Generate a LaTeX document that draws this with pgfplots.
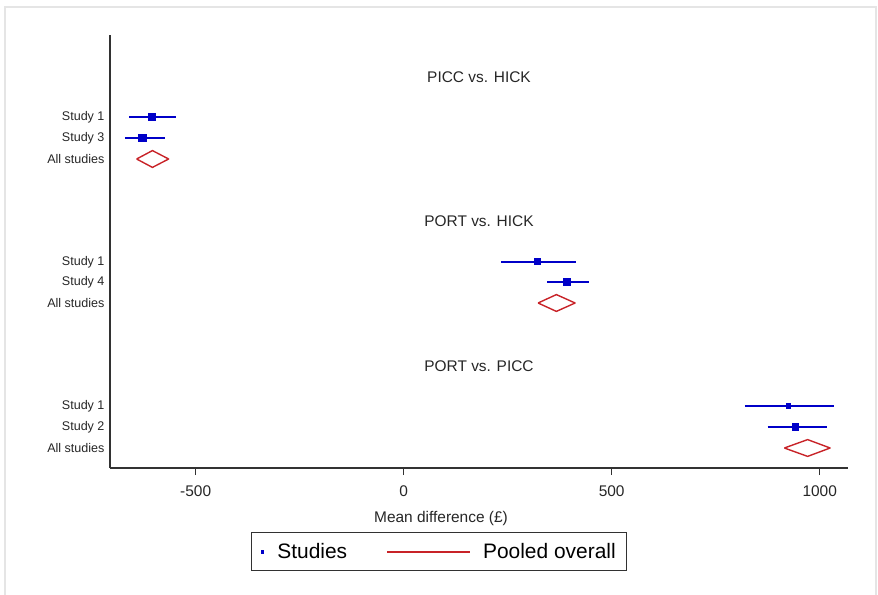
\documentclass[border=0pt]{standalone}
\usepackage{fontspec}
\setmainfont{Liberation Sans}
\usepackage{pgfplots}
\pgfplotsset{compat=1.18}
\definecolor{cblue}{RGB}{0,0,200}
\definecolor{cred}{RGB}{200,35,40}
\definecolor{axgray}{RGB}{50,50,50}
\begin{document}
\begin{tikzpicture}
\useasboundingbox (-110bp,-127bp) rectangle (768bp,468bp);
\draw[black!10, line width=1.2bp] (-105bp,-127bp) -- (-105bp,461bp) -- (766bp,461bp) -- (766bp,-127bp);
\begin{axis}[
  at={(0bp,0bp)}, anchor=south west,
  scale only axis, width=738bp, height=433bp,
  xmin=-706, xmax=1068, ymin=0, ymax=433,
  axis lines*=left,
  axis line style={axgray, line width=1.3bp},
  xtick={-500,0,500,1000},
  xticklabels={-500,0,500,1000},
  tick align=outside,
  major tick length=7bp,
  x tick style={axgray, line width=1bp},
  y tick style={draw=none},
  ytick={20,41,62,165,186,206,309,330,351},
  yticklabels={All studies,Study 2,Study 1,All studies,Study 4,Study 1,All studies,Study 3,Study 1},
  y tick label style={font=\fontsize{12.6}{14}\selectfont, text=black!85, xshift=5bp},
  x tick label style={font=\fontsize{15.5}{18}\selectfont, text=black!85, yshift=-7bp},
  xlabel={Mean difference (£)},
  xlabel style={font=\fontsize{15.5}{18}\selectfont, text=black!85, xshift=-38bp, yshift=-8bp},
  clip=false,
  legend columns=2,
  legend style={at={(0.446,-0.1933)}, anchor=center, draw=axgray, line width=1bp,
    font=\fontsize{21}{24}\selectfont, inner xsep=9bp, inner ysep=8.5bp,
    /tikz/every odd column/.append style={column sep=11bp},
    /tikz/every even column/.append style={column sep=38bp}},
]
% PICC vs. HICK
\addplot[forget plot, cblue, line width=1.8bp] coordinates {(-660,351) (-547,351)};
\addplot[forget plot, only marks, mark=square*, mark size=3.5bp, cblue, mark options={line width=0}] coordinates {(-605,351)};
\addplot[forget plot, cblue, line width=1.8bp] coordinates {(-670,330) (-574,330)};
\addplot[forget plot, only marks, mark=square*, mark size=3.6bp, cblue, mark options={line width=0}] coordinates {(-628,330)};
\addplot[forget plot, cred, line width=1.4bp, line join=round] coordinates {(-642,309) (-604,317.4) (-565,309) (-604,300.6) (-642,309)};

% PORT vs. HICK
\addplot[forget plot, cblue, line width=1.8bp] coordinates {(234,206) (415,206)};
\addplot[forget plot, only marks, mark=square*, mark size=3bp, cblue, mark options={line width=0}] coordinates {(322,206)};
\addplot[forget plot, cblue, line width=1.8bp] coordinates {(345,186) (446,186)};
\addplot[forget plot, only marks, mark=square*, mark size=3.6bp, cblue, mark options={line width=0}] coordinates {(393,186)};
\addplot[forget plot, cred, line width=1.4bp, line join=round] coordinates {(323,165) (367,173.4) (412,165) (367,156.6) (323,165)};

% PORT vs. PICC
\addplot[forget plot, cblue, line width=1.8bp] coordinates {(820,62) (1035,62)};
\addplot[forget plot, only marks, mark=square*, mark size=2bp, cblue, mark options={line width=0}] coordinates {(924,62)};
\addplot[forget plot, cblue, line width=1.8bp] coordinates {(875,41) (1017,41)};
\addplot[forget plot, only marks, mark=square*, mark size=3.1bp, cblue, mark options={line width=0}] coordinates {(942,41)};
\addplot[forget plot, cred, line width=1.4bp, line join=round] coordinates {(915,20) (971,28.4) (1025,20) (971,11.6) (915,20)};

\addlegendimage{legend image code/.code={\fill[cblue] (-1.4bp,-1.4bp) rectangle (1.4bp,1.4bp);}}
\addlegendentry{Studies}
\addlegendimage{legend image code/.code={\fill[cred] (0bp,-0.65bp) rectangle (82bp,0.65bp);}}
\addlegendentry{Pooled overall\hspace{16bp}}

\node[font=\fontsize{15.5}{18}\selectfont, text=black!85] at (axis cs:181,391) {PICC vs. HICK};
\node[font=\fontsize{15.5}{18}\selectfont, text=black!85] at (axis cs:181,247) {PORT vs. HICK};
\node[font=\fontsize{15.5}{18}\selectfont, text=black!85] at (axis cs:181,102) {PORT vs. PICC};
\end{axis}
\end{tikzpicture}
\end{document}
